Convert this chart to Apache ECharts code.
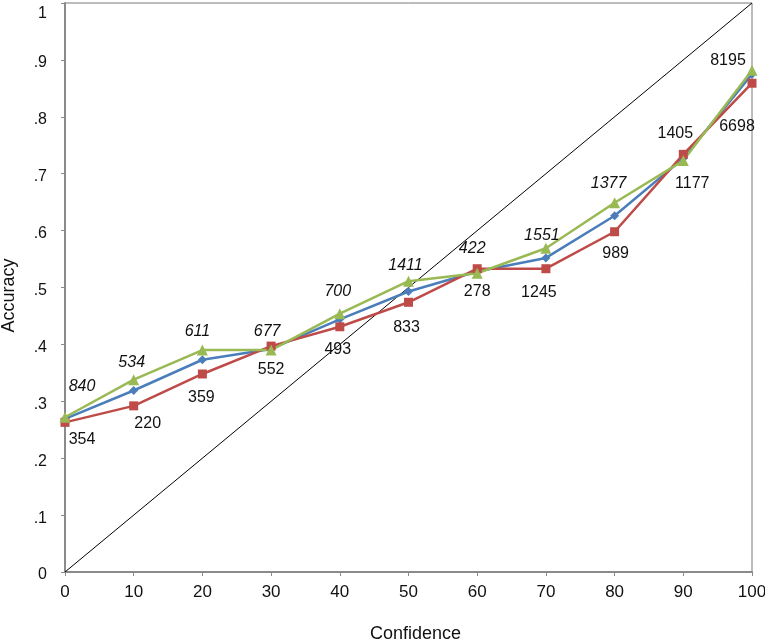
<!DOCTYPE html>
<html>
<head>
<meta charset="utf-8">
<title>Accuracy vs Confidence</title>
<script src="https://cdn.jsdelivr.net/npm/echarts@6/dist/echarts.min.js"></script>
<style>
	html, body { margin: 0; padding: 0; background: #fff; }
	#chart { width: 765px; height: 644px; }
</style>
</head>
<body>
<div id="chart"></div>
<script>
	// confidence bins (x axis)
	var xValues = [0, 10, 20, 30, 40, 50, 60, 70, 80, 90, 100];
	// accuracy per bin, one list per series
	var blueValues = [0.269, 0.319, 0.373, 0.392, 0.444, 0.493, 0.528, 0.552, 0.626, 0.727, 0.875];
	var redValues = [0.263, 0.292, 0.348, 0.397, 0.431, 0.474, 0.533, 0.533, 0.598, 0.734, 0.859];
	var greenValues = [0.272, 0.338, 0.390, 0.390, 0.454, 0.511, 0.525, 0.569, 0.649, 0.723, 0.882];
	// counts written above / below the lines
	var topLabels = ['840', '534', '611', '677', '700', '1411', '422', '1551', '1377', '1405', '8195'];
	var bottomLabels = ['354', '220', '359', '552', '493', '833', '278', '1245', '989', '1177', '6698'];
	// perfect calibration line
	var diagX = [0, 100];
	var diagY = [0, 1];
	var yTickLabels = ['0', '.1', '.2', '.3', '.4', '.5', '.6', '.7', '.8', '.9', '1'];

	// label layout (pixel offsets from the point)
	var topOffsets = [[17, -31], [-2, -17], [-5, -19], [-4, -19], [-2, -22], [-3, -16], [-5, -25], [-4, -13], [-6, -19], [-8, -27], [-24, -10]];
	var bottomOffsets = [[17, 17], [14, 18], [-1, 24], [0, 23], [-2, 23], [-2, 25], [0, 23], [-7, 24], [1, 22], [9, 29], [-15, 43]];

	var font = 'Liberation Sans, Arial, sans-serif';

	function pairs(xs, ys) {
		var out = [];
		for(var i = 0; i < xs.length; i++) {
			out.push([xs[i], ys[i]]);
		}
		return out;
	}

	function labelled(ys, texts, offsets) {
		var out = [];
		for(var i = 0; i < xValues.length; i++) {
			out.push({
				value: [xValues[i], ys[i]],
				label: {
					show: true,
					position: 'inside',
					offset: offsets[i],
					formatter: texts[i],
					// the first nine counts on top are set in italics
					fontStyle: (texts === topLabels && i < 9) ? 'italic' : 'normal'
				}
			});
		}
		return out;
	}

	function lineSeries(name, data, color, symbol, size) {
		return {
			name: name,
			type: 'line',
			data: data,
			symbol: symbol,
			symbolSize: size,
			itemStyle: { color: color },
			lineStyle: { color: color, width: 2.5 },
			label: {
				color: '#111',
				fontFamily: font,
				fontSize: 16
			},
			z: 3
		};
	}

	var chart = echarts.init(document.getElementById('chart'));
	chart.setOption({
		animation: false,
		backgroundColor: '#fff',
		grid: {
			left: 65,
			right: 13,
			top: 3,
			bottom: 72,
			containLabel: false,
			outerBoundsMode: 'none',
			show: true,
			borderColor: '#7a7a7a',
			borderWidth: 1
		},
		xAxis: {
			type: 'value',
			min: 0,
			max: 100,
			interval: 10,
			name: 'Confidence',
			nameLocation: 'middle',
			nameGap: 53,
			nameTextStyle: { color: '#111', fontFamily: font, fontSize: 18, padding: [0, 0, 0, 14] },
			axisLine: { show: true, lineStyle: { color: '#8a8a8a', width: 2 } },
			axisTick: { show: true, length: 4, lineStyle: { color: '#8a8a8a' } },
			axisLabel: { color: '#111', fontFamily: font, fontSize: 17, margin: 12 },
			splitLine: { show: false }
		},
		yAxis: {
			type: 'value',
			min: 0,
			max: 1,
			interval: 0.1,
			name: 'Accuracy',
			nameLocation: 'middle',
			nameGap: 47,
			nameTextStyle: { color: '#111', fontFamily: font, fontSize: 18, padding: [0, 16, 0, 0] },
			axisLine: { show: true, lineStyle: { color: '#8a8a8a', width: 2 } },
			axisTick: { show: true, length: 4, lineStyle: { color: '#8a8a8a' } },
			axisLabel: {
				color: '#111',
				fontFamily: font,
				fontSize: 16,
				margin: 18,
				padding: [6, 0, 0, 0],
				formatter: function(v) {
					var i = Math.round(v * 10);
					// top label sits lower so it is not cut off
					return i === 10 ? '{top|' + yTickLabels[i] + '}' : yTickLabels[i];
				},
				rich: {
					top: { fontFamily: font, fontSize: 16, color: '#111', padding: [16, 0, 0, 0] }
				}
			},
			splitLine: { show: false }
		},
		series: [
			{
				name: 'diagonal',
				type: 'line',
				data: pairs(diagX, diagY),
				symbol: 'none',
				silent: true,
				lineStyle: { color: '#000', width: 1 },
				z: 2
			},
			lineSeries('blue', pairs(xValues, blueValues), '#4a7ebb', 'diamond', 9),
			lineSeries('red', labelled(redValues, bottomLabels, bottomOffsets), '#be4b48', 'rect', 9),
			lineSeries('green', labelled(greenValues, topLabels, topOffsets), '#98b954', 'triangle', 11)
		]
	});
</script>
</body>
</html>
